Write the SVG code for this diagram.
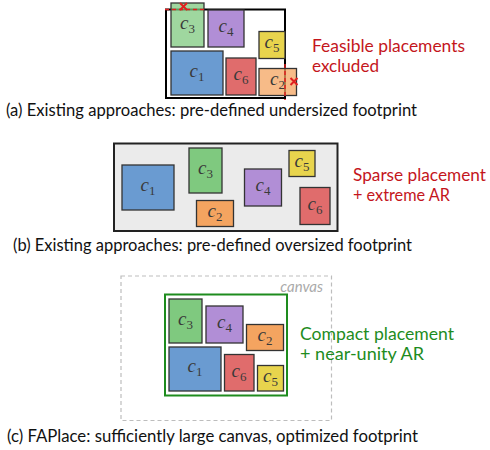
<svg xmlns="http://www.w3.org/2000/svg" width="490" height="450" viewBox="0 0 490 450">
<style>
.blk{stroke:#333;stroke-width:1.3}
.b1{fill:#6a9bd1}.b2{fill:#f4a460}.b3{fill:#7fc97f}.b4{fill:#b18ed6}.b5{fill:#e8d44d}.b6{fill:#e06c6c}
.faded rect{fill-opacity:0.75}
.lbl{font-family:"Liberation Serif",serif;font-style:italic;font-size:19px;fill:#3a3a3a;text-anchor:middle}
.sub{font-style:normal;font-size:13px}
.cap{font-family:Lato,"Open Sans",sans-serif;font-size:16.5px;fill:#111}
.note{font-family:Lato,"Open Sans",sans-serif;font-size:18px}
.red{fill:#c4161c}.green{fill:#1e8c1e}
.viol{stroke:#e02020;stroke-width:1.5;stroke-dasharray:4 3;fill:none}
.x{stroke:#e02020;stroke-width:2;fill:none}
</style>

<!-- Panel (a) -->
<g id="panel-a">
  <rect id="footprint-a" x="166" y="9.5" width="119" height="88.5" fill="#fff" stroke="#000" stroke-width="2"/>
  <g id="a-c3" class="faded"><rect class="blk b3" x="171" y="3" width="33" height="44"/><text class="lbl" x="187.5" y="29">c<tspan class="sub" dy="4">3</tspan></text></g>
  <g id="a-c4"><rect class="blk b4" x="208" y="10" width="36" height="37"/><text class="lbl" x="226" y="32">c<tspan class="sub" dy="4">4</tspan></text></g>
  <g id="a-c5"><rect class="blk b5" x="259" y="31.5" width="26" height="27"/><text class="lbl" x="272" y="48">c<tspan class="sub" dy="4">5</tspan></text></g>
  <g id="a-c1"><rect class="blk b1" x="171" y="51" width="52" height="44"/><text class="lbl" x="197" y="77">c<tspan class="sub" dy="4">1</tspan></text></g>
  <g id="a-c6"><rect class="blk b6" x="226" y="58" width="30" height="37"/><text class="lbl" x="241" y="80">c<tspan class="sub" dy="4">6</tspan></text></g>
  <g id="a-c2" class="faded"><rect class="blk b2" x="259" y="68.5" width="37.5" height="27"/><text class="lbl" x="277.5" y="85">c<tspan class="sub" dy="4">2</tspan></text></g>
  <g id="violations">
    <line class="viol" x1="165" y1="9.5" x2="207" y2="9.5"/>
    <line class="viol" x1="285" y1="64" x2="285" y2="100"/>
    <path class="x" d="M180,3 L187,10 M187,3 L180,10"/>
    <path class="x" d="M290.5,78 L297.5,85 M297.5,78 L290.5,85"/>
  </g>
  <text class="note red" x="312" y="52" textLength="153" lengthAdjust="spacingAndGlyphs">Feasible placements</text>
  <text class="note red" x="312" y="72" textLength="67" lengthAdjust="spacingAndGlyphs">excluded</text>
  <text class="cap" x="6" y="115.5" textLength="411" lengthAdjust="spacingAndGlyphs">(a) Existing approaches: pre-defined undersized footprint</text>
</g>

<!-- Panel (b) -->
<g id="panel-b">
  <rect id="footprint-b" x="114" y="143.5" width="223.5" height="87.5" fill="#ebebeb" stroke="#222" stroke-width="2"/>
  <g id="b-c1"><rect class="blk b1" x="122" y="165" width="52" height="45"/><text class="lbl" x="148" y="191">c<tspan class="sub" dy="4">1</tspan></text></g>
  <g id="b-c3"><rect class="blk b3" x="189" y="148" width="33" height="45"/><text class="lbl" x="205.5" y="174">c<tspan class="sub" dy="4">3</tspan></text></g>
  <g id="b-c2"><rect class="blk b2" x="196.5" y="200.5" width="37" height="26"/><text class="lbl" x="215" y="217">c<tspan class="sub" dy="4">2</tspan></text></g>
  <g id="b-c4"><rect class="blk b4" x="244.5" y="169" width="37" height="37"/><text class="lbl" x="263" y="191">c<tspan class="sub" dy="4">4</tspan></text></g>
  <g id="b-c5"><rect class="blk b5" x="289" y="150.5" width="26" height="26"/><text class="lbl" x="302" y="167">c<tspan class="sub" dy="4">5</tspan></text></g>
  <g id="b-c6"><rect class="blk b6" x="300" y="187.5" width="30" height="37"/><text class="lbl" x="315" y="210">c<tspan class="sub" dy="4">6</tspan></text></g>
  <text class="note red" x="353" y="180.5" font-size="17" style="font-size:17px" textLength="133" lengthAdjust="spacingAndGlyphs">Sparse placement</text>
  <text class="note red" x="353" y="200.5" style="font-size:17.5px" textLength="97" lengthAdjust="spacingAndGlyphs">+ extreme AR</text>
  <text class="cap" x="13" y="250.5" textLength="399" lengthAdjust="spacingAndGlyphs">(b) Existing approaches: pre-defined oversized footprint</text>
</g>

<!-- Panel (c) -->
<g id="panel-c">
  <rect id="canvas" x="121" y="276" width="210.5" height="144.5" fill="none" stroke="#bdbdbd" stroke-width="1.2" stroke-dasharray="4 3"/>
  <text x="323" y="292" font-family="Lato,'Open Sans',sans-serif" font-style="italic" font-size="15" fill="#aaa" text-anchor="end">canvas</text>
  <rect id="footprint-c" x="165" y="294.5" width="122" height="101" fill="#fff" stroke="#1e8c1e" stroke-width="2"/>
  <g id="c-c3"><rect class="blk b3" x="169" y="299" width="33" height="44"/><text class="lbl" x="185.5" y="325">c<tspan class="sub" dy="4">3</tspan></text></g>
  <g id="c-c4"><rect class="blk b4" x="206" y="306" width="37" height="37"/><text class="lbl" x="224.5" y="328">c<tspan class="sub" dy="4">4</tspan></text></g>
  <g id="c-c2"><rect class="blk b2" x="246.5" y="324.5" width="37" height="26"/><text class="lbl" x="265" y="341">c<tspan class="sub" dy="4">2</tspan></text></g>
  <g id="c-c1"><rect class="blk b1" x="169" y="347" width="52" height="44"/><text class="lbl" x="195" y="372">c<tspan class="sub" dy="4">1</tspan></text></g>
  <g id="c-c6"><rect class="blk b6" x="224.5" y="354.5" width="29.5" height="36.5"/><text class="lbl" x="239" y="377">c<tspan class="sub" dy="4">6</tspan></text></g>
  <g id="c-c5"><rect class="blk b5" x="257.5" y="365.5" width="26" height="25.5"/><text class="lbl" x="270.5" y="382">c<tspan class="sub" dy="4">5</tspan></text></g>
  <text class="note green" x="300" y="340" textLength="154" lengthAdjust="spacingAndGlyphs">Compact placement</text>
  <text class="note green" x="300" y="360" textLength="124" lengthAdjust="spacingAndGlyphs">+ near-unity AR</text>
  <text class="cap" x="7" y="441.5" textLength="411" lengthAdjust="spacingAndGlyphs">(c) FAPlace: sufficiently large canvas, optimized footprint</text>
</g>
</svg>
